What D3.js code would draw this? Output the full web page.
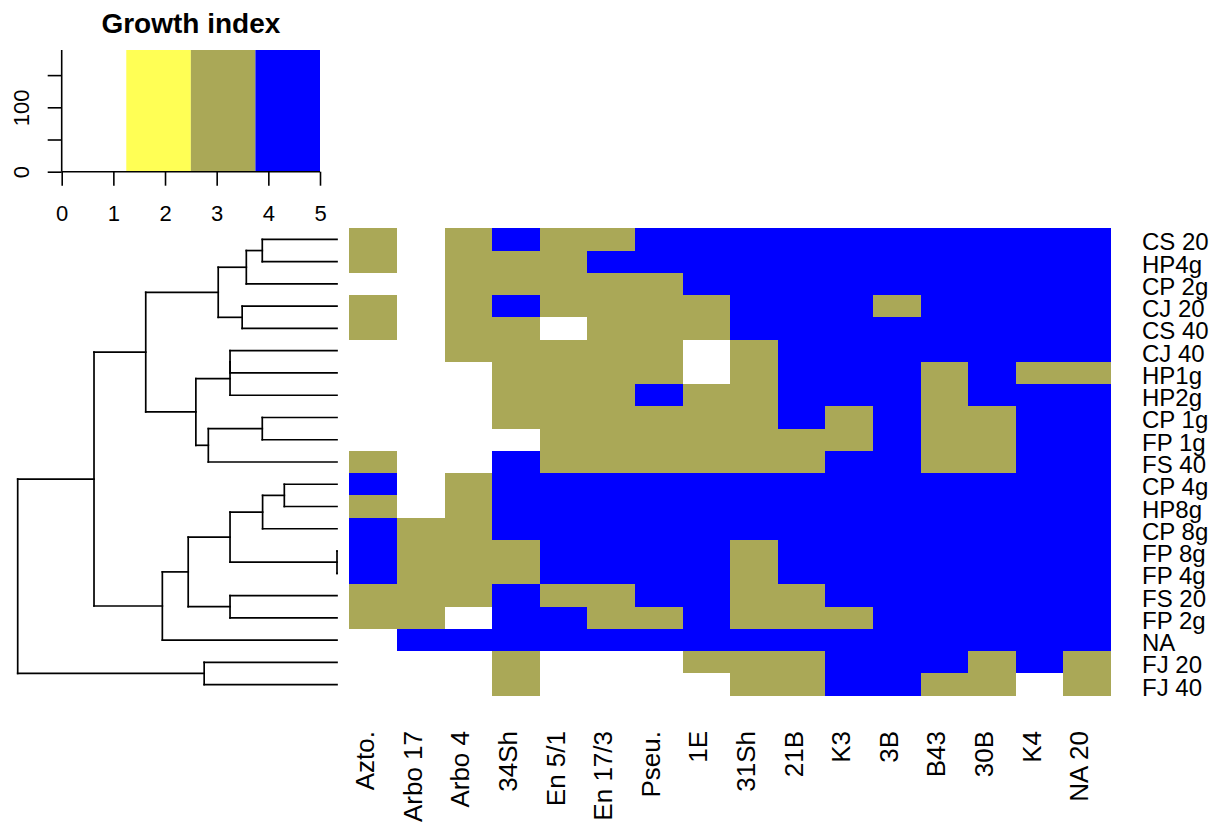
<!DOCTYPE html>
<html>
<head>
<meta charset="utf-8">
<script src="https://cdn.jsdelivr.net/npm/d3@7"></script>
<style>
  html, body { margin: 0; padding: 0; background: #fff; }
  svg { display: block; font-family: "Liberation Sans", Arial, sans-serif; }
</style>
</head>
<body>
<svg id="chart" width="1229" height="830"></svg>
<script>
// ---------------- data ----------------
const rowLabels = ["CS 20","HP4g","CP 2g","CJ 20","CS 40","CJ 40","HP1g","HP2g","CP 1g","FP 1g","FS 40",
                   "CP 4g","HP8g","CP 8g","FP 8g","FP 4g","FS 20","FP 2g","NA","FJ 20","FJ 40"];
const colLabels = ["Azto.","Arbo 17","Arbo 4","34Sh","En 5/1","En 17/3","Pseu.","1E","31Sh","21B","K3","3B","B43","30B","K4","NA 20"];

// growth index per row (same order as rowLabels), one value per column
const growth = [
  [3,1,3,4,3,3,4,4,4,4,4,4,4,4,4,4],
  [3,1,3,3,3,4,4,4,4,4,4,4,4,4,4,4],
  [1,1,3,3,3,3,3,4,4,4,4,4,4,4,4,4],
  [3,1,3,4,3,3,3,3,4,4,4,3,4,4,4,4],
  [3,1,3,3,1,3,3,3,4,4,4,4,4,4,4,4],
  [1,1,3,3,3,3,3,1,3,4,4,4,4,4,4,4],
  [1,1,1,3,3,3,3,1,3,4,4,4,3,4,3,3],
  [1,1,1,3,3,3,4,3,3,4,4,4,3,4,4,4],
  [1,1,1,3,3,3,3,3,3,4,3,4,3,3,4,4],
  [1,1,1,1,3,3,3,3,3,3,3,4,3,3,4,4],
  [3,1,1,4,3,3,3,3,3,3,4,4,3,3,4,4],
  [4,1,3,4,4,4,4,4,4,4,4,4,4,4,4,4],
  [3,1,3,4,4,4,4,4,4,4,4,4,4,4,4,4],
  [4,3,3,4,4,4,4,4,4,4,4,4,4,4,4,4],
  [4,3,3,3,4,4,4,4,3,4,4,4,4,4,4,4],
  [4,3,3,3,4,4,4,4,3,4,4,4,4,4,4,4],
  [3,3,3,4,3,3,4,4,3,3,4,4,4,4,4,4],
  [3,3,1,4,4,3,3,4,3,3,3,4,4,4,4,4],
  [1,4,4,4,4,4,4,4,4,4,4,4,4,4,4,4],
  [1,1,1,3,1,1,1,3,3,3,4,4,4,3,4,3],
  [1,1,1,3,1,1,1,1,3,3,4,4,3,3,1,3]
];

// row dendrogram merges: [left, right, height]; ids are leaf names or "m<index>"
const merges = [
  ["CS 20","HP4g",2.34],   // m0
  ["m0","CP 2g",2.84],     // m1
  ["CJ 20","CS 40",2.97],  // m2
  ["m1","m2",3.72],        // m3
  ["CJ 40","HP1g",3.35],   // m4
  ["m4","HP2g",3.35],      // m5
  ["CP 1g","FP 1g",2.34],  // m6
  ["m6","FS 40",4.03],     // m7
  ["m5","m7",4.42],        // m8
  ["m3","m8",5.99],        // m9
  ["CP 4g","HP8g",1.65],   // m10
  ["m10","CP 8g",2.33],    // m11
  ["FP 8g","FP 4g",0],     // m12
  ["m11","m12",3.35],      // m13
  ["FS 20","FP 2g",3.35],  // m14
  ["m13","m14",4.66],      // m15
  ["m15","NA",5.47],       // m16
  ["m9","m16",7.61],       // m17
  ["FJ 20","FJ 40",4.16],  // m18
  ["m17","m18",10]         // m19
];

// colour key
const keyBreaks = [0, 1.25, 2.5, 3.75, 5];
const keyColors = ["#FFFFFF", "#FFFF55", "#AAA857", "#0000FF"];
const keyXTicks = [0, 1, 2, 3, 4, 5];
const keyYTicks = [0, 50, 100, 150];
const keyYLabels = [0, 100];
const keyTitle = "Growth index";

// ---------------- drawing ----------------
const svg = d3.select("#chart");
const FONT = '"Liberation Sans", Arial, sans-serif';

const hm = { left: 349.3, right: 1110.9, top: 228.3, bottom: 695.7 };

const x = d3.scaleBand().domain(colLabels).range([hm.left, hm.right]).padding(0);
const y = d3.scaleBand().domain(rowLabels).range([hm.top, hm.bottom]).padding(0);
const color = d3.scaleThreshold().domain(keyBreaks.slice(1, -1)).range(keyColors);

// heatmap cells
const cells = [];
growth.forEach((row, i) => row.forEach((v, j) => cells.push({ r: rowLabels[i], c: colLabels[j], v })));
svg.append("g").selectAll("rect").data(cells).join("rect")
  .attr("x", d => x(d.c))
  .attr("y", d => y(d.r))
  .attr("width", x.bandwidth() + 0.3)
  .attr("height", y.bandwidth() + 0.3)
  .attr("fill", d => color(d.v))
  .attr("shape-rendering", "crispEdges");

// row labels
svg.append("g").selectAll("text").data(rowLabels).join("text")
  .attr("x", 1142)
  .attr("y", d => y(d) + y.bandwidth() / 2 + 11)
  .attr("font-size", 24)
  .attr("fill", "#000")
  .text(d => d);

// column labels (rotated)
svg.append("g").selectAll("text").data(colLabels).join("text")
  .attr("transform", d => `translate(${x(d) + x.bandwidth() / 2 + 1},731) rotate(-90)`)
  .attr("text-anchor", "end")
  .attr("font-size", 26)
  .attr("fill", "#000")
  .text(d => d);

// dendrogram
const hx = d3.scaleLinear().domain([0, 10]).range([337, 17.7]);
const nodes = {};
rowLabels.forEach(r => { nodes[r] = { y: y(r) + y.bandwidth() / 2, h: 0 }; });
const segs = [];
merges.forEach((m, i) => {
  const a = nodes[m[0]], b = nodes[m[1]], h = m[2];
  const px = hx(h);
  segs.push([hx(a.h), a.y, px, a.y]);
  segs.push([hx(b.h), b.y, px, b.y]);
  segs.push([px, a.y, px, b.y]);
  nodes["m" + i] = { y: (a.y + b.y) / 2, h };
});
svg.append("g").selectAll("line").data(segs).join("line")
  .attr("x1", d => d[0]).attr("y1", d => d[1])
  .attr("x2", d => d[2]).attr("y2", d => d[3])
  .attr("stroke", "#000").attr("stroke-width", 1.7)
  .attr("stroke-linecap", "square");

// colour key
const kx = d3.scaleLinear().domain([0, 5]).range([61.7, 320]);
const ky = d3.scaleLinear().domain([0, 189]).range([171.7, 50]);
const key = svg.append("g");
key.selectAll("rect").data(keyColors).join("rect")
  .attr("x", (d, i) => kx(keyBreaks[i]))
  .attr("y", ky(189))
  .attr("width", (d, i) => kx(keyBreaks[i + 1]) - kx(keyBreaks[i]))
  .attr("height", ky(0) - ky(189))
  .attr("fill", d => d);

const xAx = key.append("g").attr("transform", `translate(0,${ky(0)})`)
  .call(d3.axisBottom(kx).tickValues(keyXTicks).tickSize(14).tickSizeOuter(0).tickPadding(20).tickFormat(d3.format("d")));
const yAx = key.append("g").attr("transform", `translate(${kx(0)},0)`)
  .call(d3.axisLeft(ky).tickValues(keyYTicks).tickSize(14).tickSizeOuter(0)
        .tickFormat(d => keyYLabels.includes(d) ? d : ""));
[xAx, yAx].forEach(g => {
  g.selectAll("path, line").attr("stroke", "#000").attr("stroke-width", 1.6);
  g.selectAll("text").attr("font-family", FONT).attr("font-size", 22).attr("fill", "#000");
});
// extend y axis line to the top of the key
yAx.select("path.domain").attr("d", `M0,${ky(189)}V${ky(0)}`);
xAx.select("path.domain").attr("d", `M${kx(0)},0H${kx(5)}`);
yAx.selectAll(".tick text")
  .attr("x", 0).attr("dy", 0)
  .attr("text-anchor", "middle")
  .attr("transform", "translate(-33,0) rotate(-90)");
xAx.selectAll(".tick text").attr("dy", "0.71em");

key.append("text")
  .attr("x", (kx(0) + kx(5)) / 2).attr("y", 33)
  .attr("text-anchor", "middle")
  .attr("font-size", 28).attr("font-weight", "bold").attr("fill", "#000")
  .text(keyTitle);
</script>
</body>
</html>
